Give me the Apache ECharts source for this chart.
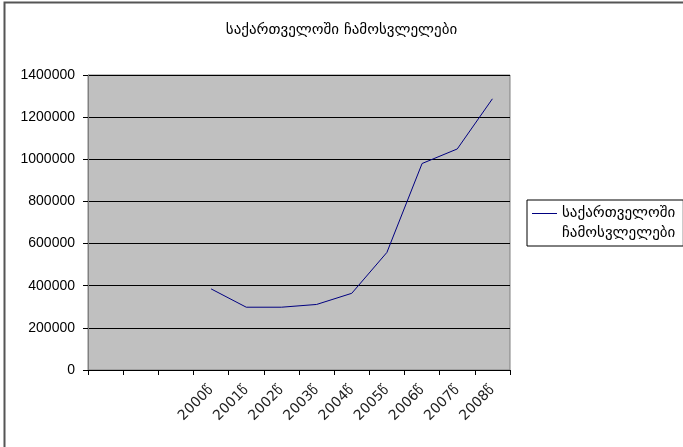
<!doctype html>
<html>
<head>
    <meta charset="utf-8">
    <title>საქართველოში ჩამოსვლელები</title>
    <style>
        html, body { margin: 0; padding: 0; background: #fff; }
        #chartEle { width: 683px; height: 447px; }
    </style>
</head>
<body>
<div id="chartEle"></div>
<script src="https://cdn.jsdelivr.net/npm/echarts@6/dist/echarts.min.js"></script>
<script>
    // x categories: first three are empty slots, as in the original sheet
    var categories = ['', '', '', '2000წ', '2001წ', '2002წ', '2003წ', '2004წ', '2005წ', '2006წ', '2007წ', '2008წ'];
    var arrivals = [null, null, null, 385000, 298000, 298000, 311000, 364000, 558000, 980000, 1049000, 1287000];
    var seriesName = 'საქართველოში ჩამოსვლელები';
    var geoFont = 'DejaVu Sans';

    var myChart = echarts.init(document.getElementById('chartEle'));
    var option = {
        animation: false,
        backgroundColor: '#fff',
        title: {
            text: seriesName,
            left: 'center',
            top: 18,
            textStyle: {fontFamily: geoFont, fontSize: 15, fontWeight: 'normal', color: '#000'}
        },
        legend: {
            data: [seriesName],
            left: 527,
            top: 200,
            padding: [3, 8, 3, 5],
            borderColor: '#000',
            borderWidth: 1,
            // line on top, invisible point below -> swatch sits on the first text line
            icon: 'path://M0,0L25,0L25,1L0,1Z M0,20L0.01,20',
            itemWidth: 25,
            itemHeight: 20,
            itemGap: 0,
            formatter: function () { return 'საქართველოში\nჩამოსვლელები'; },
            textStyle: {fontFamily: geoFont, fontSize: 15, color: '#000', lineHeight: 20}
        },
        grid: {
            left: 88,
            right: 173,
            top: 75,
            bottom: 77,
            show: true,
            backgroundColor: '#c0c0c0',
            borderColor: '#808080',
            borderWidth: 1
        },
        xAxis: {
            type: 'category',
            data: categories,
            boundaryGap: true,
            axisLine: {lineStyle: {color: '#000', width: 1}},
            axisTick: {show: true, length: 5, interval: 0, lineStyle: {color: '#000'}},
            axisLabel: {
                interval: 0,
                rotate: 45,
                margin: 18,
                fontFamily: geoFont,
                fontSize: 14,
                color: '#222'
            }
        },
        yAxis: {
            type: 'value',
            min: 0,
            max: 1400000,
            interval: 200000,
            axisLine: {show: true, lineStyle: {color: '#808080'}},
            axisTick: {show: true, length: 5, lineStyle: {color: '#000'}},
            axisLabel: {
                margin: 13,
                fontFamily: 'Liberation Sans',
                fontSize: 14,
                color: '#000',
                formatter: function (v) { return String(v); }
            },
            splitLine: {show: true, lineStyle: {color: '#000', width: 1}}
        },
        series: [{
            name: seriesName,
            type: 'line',
            data: arrivals,
            showSymbol: false,
            symbol: 'none',
            connectNulls: false,
            color: '#000080',
            lineStyle: {color: '#000080', width: 1}
        }],
        graphic: [{
            type: 'rect',
            shape: {x: 4.5, y: 2.5, width: 720, height: 500},
            style: {fill: null, stroke: '#555', lineWidth: 2},
            silent: true
        }]
    };
    myChart.setOption(option);
</script>
</body>
</html>
